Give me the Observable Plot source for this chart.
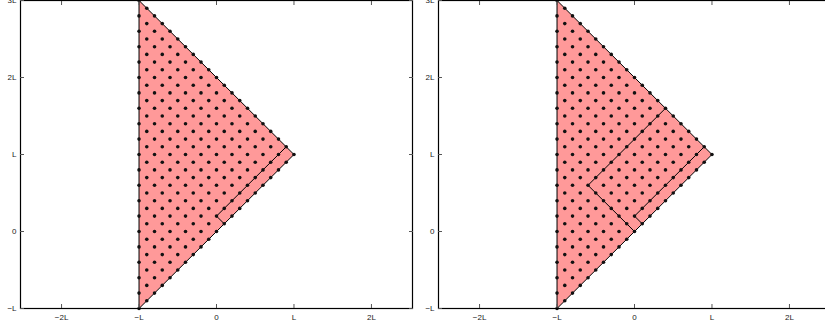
<!DOCTYPE html>
<html>
<head>
<meta charset="utf-8">
<script src="https://cdn.jsdelivr.net/npm/d3@7"></script>
<script src="https://cdn.jsdelivr.net/npm/@observablehq/plot@0.6"></script>
<style>
  html, body { margin: 0; padding: 0; background: white; overflow: hidden; }
  #wrap { position: relative; width: 825px; height: 329px; overflow: hidden; }
  .panel { position: absolute; top: 0; }
</style>
</head>
<body>
<div id="wrap"></div>
<script>
// ---- data ----
const xTicks = [-2, -1, 0, 1, 2];
const yTicks = [-1, 0, 1, 2, 3];
const tickLabels = {"-2": "\u22122L", "-1": "\u2212L", "0": "0", "1": "L", "2": "2L", "3": "3L"};
const triangleX = [-1, 1, -1, -1];
const triangleY = [-1, 1, 3, -1];
const stripX = [0.9, 0, 0.1];
const stripY = [1.1, 0.2, 0.1];
const wedgeX = [0.4, -0.6, 0];
const wedgeY = [1.6, 0.6, 0];
const nodeStep = 0.1;          // mesh spacing (in L)
const nodeCols = d3.range(-10, 11);  // column indices
const nodeRows = d3.range(-10, 31);  // row indices
const xDomain = [-2.53, 2.53];
const yDomain = [-1, 3];

// mesh nodes: staggered lattice inside the triangle
const nodes = [];
for (const i of nodeCols) for (const j of nodeRows) {
  if ((i + j) % 2 !== 0) continue;
  const x = i * nodeStep, y = j * nodeStep;
  if (y >= x - 1e-9 && y <= 2 - x + 1e-9) nodes.push({x, y});
}
const tri = triangleX.map((x, k) => ({x, y: triangleY[k]}));
const strip = stripX.map((x, k) => ({x, y: stripY[k]}));
const wedge = wedgeX.map((x, k) => ({x, y: wedgeY[k]}));
const fmt = d => tickLabels[String(d)];
const blank = () => "";

function panel(withWedge) {
  return Plot.plot({
    width: 418,
    height: 329,
    marginLeft: 20,
    marginRight: 6,
    marginTop: 0,
    marginBottom: 21,
    x: {domain: xDomain},
    y: {domain: yDomain},
    style: {fontFamily: "'Liberation Sans', Arial, sans-serif", fontSize: "8px", color: "#111", background: "white", overflow: "visible"},
    marks: [
      Plot.line(tri, {x: "x", y: "y", fill: "#ff9999", stroke: "black", strokeWidth: 1}),
      Plot.line(strip, {x: "x", y: "y", stroke: "black", strokeWidth: 1}),
      withWedge ? Plot.line(wedge, {x: "x", y: "y", stroke: "black", strokeWidth: 1}) : null,
      Plot.dot(nodes, {x: "x", y: "y", r: 1.8, fill: "#111", stroke: null}),
      Plot.frame({stroke: "black", strokeWidth: 1.2}),
      Plot.axisX(xTicks, {anchor: "bottom", tickSize: -4, tickPadding: 10, tickFormat: fmt, label: null, stroke: "#555", fill: "#222"}),
      Plot.axisX(xTicks, {anchor: "top", tickSize: -4, tickFormat: blank, label: null, stroke: "#555"}),
      Plot.axisY(yTicks, {anchor: "left", tickSize: -4, tickPadding: 8, tickFormat: fmt, label: null, stroke: "#555", fill: "#222"}),
      Plot.axisY(yTicks, {anchor: "right", tickSize: -4, tickFormat: blank, label: null, stroke: "#555"})
    ]
  });
}

const wrap = document.getElementById("wrap");
const a = panel(false); a.classList.add("panel"); a.style.left = "0px";
const b = panel(true);  b.classList.add("panel"); b.style.left = "418px";
wrap.appendChild(a);
wrap.appendChild(b);
</script>
</body>
</html>
